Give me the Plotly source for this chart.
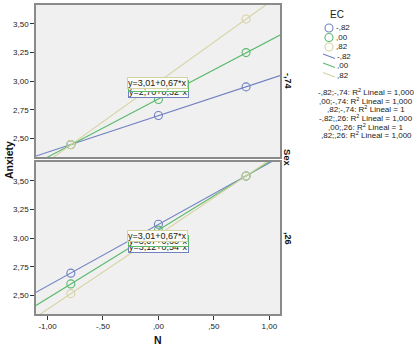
import numpy as np
import plotly.graph_objects as go

# ---- data ----
N_vals = [-0.79, 0.00, 0.79]
ec_levels = ["-,82", ",00", ",82"]
sex_levels = ["-,74", ",26"]
anx_top = {  # Sex = -,74
    "-,82": [2.445, 2.70, 2.95],
    ",00": [2.445, 2.84, 3.25],
    ",82": [2.445, 2.99, 3.544],
}
anx_bot = {  # Sex = ,26
    "-,82": [2.694, 3.122, 3.544],
    ",00": [2.60, 3.07, 3.544],
    ",82": [2.515, 3.03, 3.544],
}
eq_top = ["y=2,70+0,32*x", "y=2,84+0,51*x", "y=3,01+0,67*x"]
eq_bot = ["y=3,12+0,54*x", "y=3,07+0,60*x", "y=3,01+0,67*x"]
r2_labels = ["-,82;-,74: R<sup>2</sup> Lineal = 1,000",
             ",00;-,74: R<sup>2</sup> Lineal = 1,000",
             ",82;-,74: R<sup>2</sup> Lineal = 1",
             "-,82;,26: R<sup>2</sup> Lineal = 1,000",
             ",00;,26: R<sup>2</sup> Lineal = 1",
             ",82;,26: R<sup>2</sup> Lineal = 1,000"]
x_ticks = [-1.0, -0.5, 0.0, 0.5, 1.0]
x_ticklabels = ["-1,00", "-,50", ",00", ",50", "1,00"]
y_ticks = [2.50, 2.75, 3.00, 3.25, 3.50]
y_ticklabels = ["2,50", "2,75", "3,00", "3,25", "3,50"]

colors = ["#7080c2", "#5cba6d", "#d6d3a3"]
W, H = 416, 347
XR = [-1.104, 1.096]
YR = [2.337, 3.666]
FONT = "Liberation Sans, Arial, sans-serif"

def px(x):
    return x / W

def py(y):
    return 1 - y / H

fig = go.Figure()

for ax, data in (("", anx_top), ("2", anx_bot)):
    for i, lev in enumerate(ec_levels):
        yv = data[lev]
        b, a = np.polyfit(N_vals, yv, 1)
        xl = np.array(XR)
        fig.add_trace(go.Scatter(x=xl, y=a + b * xl, mode="lines",
                                 line=dict(color=colors[i], width=1.1),
                                 xaxis="x" + ax, yaxis="y" + ax, showlegend=False,
                                 hoverinfo="skip"))
    for i, lev in enumerate(ec_levels):
        fig.add_trace(go.Scatter(x=N_vals, y=data[lev], mode="markers",
                                 marker=dict(symbol="circle-open", size=8,
                                             color=colors[i], line=dict(width=1.1)),
                                 xaxis="x" + ax, yaxis="y" + ax, showlegend=False,
                                 cliponaxis=True))

tickfont = dict(family=FONT, size=8, color="#222")
frame = dict(showline=True, linecolor="#8a8a8a", linewidth=1.5, mirror=True,
             showgrid=False, zeroline=False, tickfont=tickfont)
fig.update_layout(
    width=W, height=H, margin=dict(l=0, r=0, t=0, b=0),
    paper_bgcolor="white", plot_bgcolor="#f0f0f0",
    xaxis=dict(**frame, range=XR, domain=[px(36), px(280)], anchor="y",
               showticklabels=False, ticks=""),
    yaxis=dict(**frame, range=YR, domain=[py(157), py(5)], anchor="x",
               tickvals=y_ticks, ticktext=y_ticklabels, ticks="outside",
               ticklen=4, tickcolor="#333"),
    xaxis2=dict(**frame, range=XR, domain=[px(36), px(280)], anchor="y2",
                tickvals=x_ticks, ticktext=x_ticklabels, ticks="outside",
                ticklen=4, tickcolor="#333"),
    yaxis2=dict(**frame, range=YR, domain=[py(314), py(162)], anchor="x2",
                tickvals=y_ticks, ticktext=y_ticklabels, ticks="outside",
                ticklen=4, tickcolor="#333"),
)

ann = []

def text(x, y, t, size=8, xanchor="center", angle=0, color="#222"):
    ann.append(dict(x=px(x), y=py(y), xref="paper", yref="paper", text=t,
                    xanchor=xanchor, yanchor="middle", textangle=angle,
                    showarrow=False, font=dict(family=FONT, size=size, color=color)))

# equation labels (blue bottom-most, beige on top)
for ax, eqs, ycen, shifts in (("", eq_top, 2.988, [-9, -3, 0]),
                              ("2", eq_bot, 3.015, [-11, -5, 0])):
    for i in range(3):
        ann.append(dict(x=-0.01, y=ycen, xref="x" + ax, yref="y" + ax,
                        xanchor="center", yanchor="middle",
                        text=eqs[i], showarrow=False, yshift=shifts[i],
                        xshift=(1 if i < 2 else 0),
                        font=dict(family=FONT, size=9, color="#222"),
                        bgcolor="#fbfbf7", bordercolor=colors[i], borderwidth=1,
                        borderpad=0))

# axis titles
text(9, 160, "<b>Anxiety</b>", size=10.5, angle=-90, color="#111")
text(158, 340, "<b>N</b>", size=10.5, color="#111")
# facet labels
text(288, 81, "<b>" + sex_levels[0] + "</b>", size=9, angle=90, color="#111")
text(288, 238, "<b>" + sex_levels[1] + "</b>", size=9, angle=90, color="#111")
text(288, 158, "<b>Sex</b>", size=9.5, angle=90, color="#111")

# legend
text(337, 14, "EC", size=10)
shapes = []
marker_rows = [28, 37.5, 47]
line_rows = [56.5, 65.5, 75]
for i, lev in enumerate(ec_levels):
    yc = marker_rows[i]
    shapes.append(dict(type="circle", xref="paper", yref="paper",
                       xsizemode="pixel", ysizemode="pixel",
                       xanchor=px(329), yanchor=py(yc), x0=-4, x1=4, y0=-4, y1=4,
                       line=dict(color=colors[i], width=1.1)))
    text(334, yc, lev, xanchor="left")
for i, lev in enumerate(ec_levels):
    yc = line_rows[i]
    shapes.append(dict(type="line", xref="paper", yref="paper",
                       x0=px(323), x1=px(335), y0=py(yc - 2.5), y1=py(yc + 2),
                       line=dict(color=colors[i], width=1.1)))
    text(335, yc, lev, xanchor="left")
r2_rows = [92, 100.7, 109.3, 118, 126.5, 135]
for t, yc in zip(r2_labels, r2_rows):
    text(366, yc, t)

fig.update_layout(annotations=ann, shapes=shapes)
fig.write_html("out.html")
